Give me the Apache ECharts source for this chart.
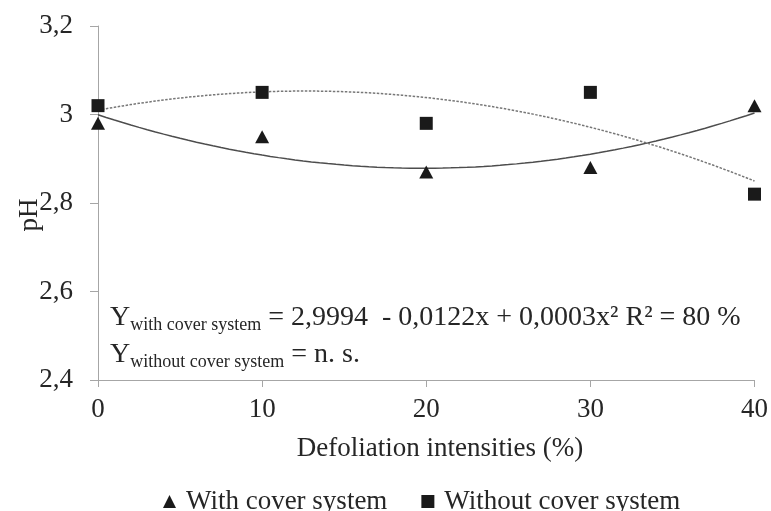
<!DOCTYPE html>
<html>
<head>
<meta charset="utf-8">
<script src="https://cdn.jsdelivr.net/npm/echarts@6/dist/echarts.min.js"></script>
<style>html,body{margin:0;padding:0;background:#fff;}#c{width:771px;height:511px;}</style>
</head>
<body>
<div id="c"></div>
<script>
// ---- data ----
const defoliation = [0, 10, 20, 30, 40];
const withCover = [2.98, 2.95, 2.87, 2.88, 3.02];
const withoutCover = [3.02, 3.05, 2.98, 3.05, 2.82];
const seriesNames = ['With cover system', 'Without cover system'];
const xTitle = 'Defoliation intensities (%)';
const yTitle = 'pH';

// least-squares quadratic trend line computed from the data points
function quadFit(xs, ys) {
  let n = xs.length, s = [0,0,0,0,0], t = [0,0,0];
  for (let i = 0; i < n; i++) {
    const x = xs[i], y = ys[i];
    for (let k = 0; k <= 4; k++) s[k] += Math.pow(x, k);
    for (let k = 0; k <= 2; k++) t[k] += Math.pow(x, k) * y;
  }
  const A = [[s[0], s[1], s[2], t[0]], [s[1], s[2], s[3], t[1]], [s[2], s[3], s[4], t[2]]];
  for (let i = 0; i < 3; i++) {
    for (let j = i + 1; j < 3; j++) {
      const f = A[j][i] / A[i][i];
      for (let k = i; k < 4; k++) A[j][k] -= f * A[i][k];
    }
  }
  const c = [0,0,0];
  for (let i = 2; i >= 0; i--) {
    let v = A[i][3];
    for (let k = i + 1; k < 3; k++) v -= A[i][k] * c[k];
    c[i] = v / A[i][i];
  }
  return c;
}
function trend(xs, ys) {
  const c = quadFit(xs, ys);
  const out = [];
  const x0 = xs[0], x1 = xs[xs.length - 1];
  for (let i = 0; i <= 80; i++) {
    const x = x0 + (x1 - x0) * i / 80;
    out.push([x, c[0] + c[1] * x + c[2] * x * x]);
  }
  return out;
}

const FONT = '"Liberation Serif", "Times New Roman", serif';
const TXT = '#262626';
const chart = echarts.init(document.getElementById('c'), null, {renderer: 'canvas'});
chart.setOption({
  animation: false,
  backgroundColor: '#fff',
  grid: {left: 98, right: 13, top: 26, bottom: 131},
  xAxis: {
    type: 'value', min: 0, max: 40, interval: 10,
    axisLine: {show: true, lineStyle: {color: '#a6a6a6', width: 1}},
    axisTick: {show: true, length: 7, lineStyle: {color: '#a6a6a6'}},
    splitLine: {show: false},
    axisLabel: {color: TXT, fontFamily: FONT, fontSize: 27, margin: 16}
  },
  yAxis: {
    type: 'value', min: 2.4, max: 3.2, interval: 0.2,
    axisLine: {show: true, lineStyle: {color: '#a6a6a6', width: 1}},
    axisTick: {show: true, length: 8, lineStyle: {color: '#a6a6a6'}},
    splitLine: {show: false},
    axisLabel: {
      color: TXT, fontFamily: FONT, fontSize: 27, margin: 25,
      formatter: v => String(Math.round(v * 10) / 10).replace('.', ',')
    }
  },
  legend: {
    left: 158, top: 483, itemWidth: 13, itemHeight: 13, itemGap: 34,
    textStyle: {color: TXT, fontFamily: FONT, fontSize: 27, padding: [0, 0, 0, 5]},
    data: [
      {name: seriesNames[0], icon: 'triangle'},
      {name: seriesNames[1], icon: 'rect'}
    ]
  },
  graphic: [
    {
      type: 'text', x: 30, y: 215, rotation: Math.PI / 2,
      style: {text: yTitle, fill: TXT, font: '27px ' + FONT, align: 'center', verticalAlign: 'middle'}
    },
    {
      type: 'text', x: 440, y: 449,
      style: {text: xTitle, fill: TXT, font: '27px ' + FONT, align: 'center', verticalAlign: 'middle'}
    },
    {
      type: 'text', x: 110, y: 299,
      style: {
        text: '{m|Y}{s|with cover system}{m| = 2,9994  - 0,0122x + 0,0003x² R² = 80 %}\n{m|Y}{s|without cover system}{m| = n. s.}',
        fill: TXT,
        rich: {
          m: {fontFamily: FONT, fontSize: 28, lineHeight: 37, fill: TXT},
          s: {fontFamily: FONT, fontSize: 18, lineHeight: 20, padding: [16, 0, 0, 0], fill: TXT}
        }
      }
    }
  ],
  series: [
    {
      name: seriesNames[0], type: 'scatter', symbol: 'triangle', symbolSize: [14, 13],
      itemStyle: {color: '#1a1a1a', opacity: 1}, z: 5,
      data: defoliation.map((x, i) => [x, withCover[i]])
    },
    {
      name: seriesNames[1], type: 'scatter', symbol: 'rect', symbolSize: 13,
      itemStyle: {color: '#1a1a1a', opacity: 1}, z: 5,
      data: defoliation.map((x, i) => [x, withoutCover[i]])
    },
    {
      name: 'trend-with', type: 'line', showSymbol: false, symbol: 'none', smooth: false,
      lineStyle: {color: '#4d4d4d', width: 1.5, type: 'solid'}, z: 3,
      data: trend(defoliation, withCover), silent: true
    },
    {
      name: 'trend-without', type: 'line', showSymbol: false, symbol: 'none', smooth: false,
      lineStyle: {color: '#777', width: 1.5, type: [2.5, 1.5]}, z: 3,
      data: trend(defoliation, withoutCover), silent: true
    }
  ]
});
</script>
</body>
</html>
